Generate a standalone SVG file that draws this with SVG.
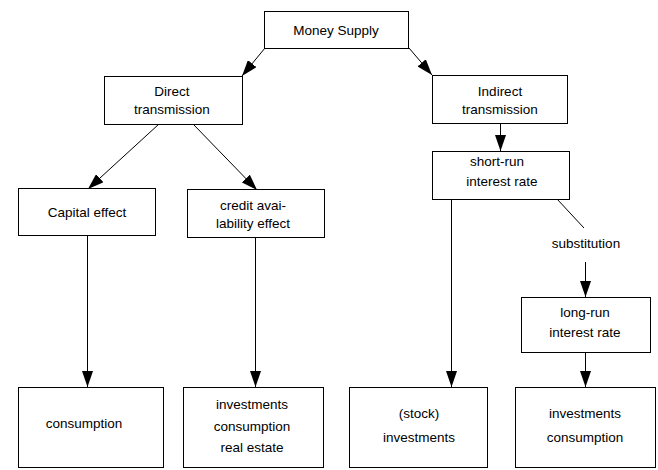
<svg xmlns="http://www.w3.org/2000/svg" width="658" height="470" viewBox="0 0 658 470">
<style>
.box{fill:#fff;stroke:#000;stroke-width:1}
.t{font-family:"Liberation Sans",Arial,sans-serif;font-size:13.5px;fill:#000;text-anchor:middle}
.c{stroke:#000;stroke-width:1;fill:none}
</style>
<defs>
<marker id="ah" viewBox="0 0 16 11" refX="16" refY="5.5" markerWidth="16" markerHeight="11" markerUnits="userSpaceOnUse" orient="auto">
<path d="M0,0 L16,5.5 L0,11 Z" fill="#000"/>
</marker>
</defs>
<rect width="658" height="470" fill="#fff"/>
<g id="connectors">
<line class="c" x1="265" y1="48" x2="242" y2="76" marker-end="url(#ah)"/>
<line class="c" x1="409" y1="48" x2="432" y2="75" marker-end="url(#ah)"/>
<line class="c" x1="159" y1="124" x2="88" y2="189" marker-end="url(#ah)"/>
<line class="c" x1="193" y1="124" x2="257" y2="190" marker-end="url(#ah)"/>
<line class="c" x1="500.5" y1="123" x2="500.5" y2="151" marker-end="url(#ah)"/>
<line class="c" x1="557" y1="199" x2="584" y2="228"/>
<line class="c" x1="585.5" y1="262" x2="585.5" y2="297" marker-end="url(#ah)"/>
<line class="c" x1="87.5" y1="235" x2="87.5" y2="387" marker-end="url(#ah)"/>
<line class="c" x1="255.5" y1="237" x2="255.5" y2="387" marker-end="url(#ah)"/>
<line class="c" x1="451.5" y1="199" x2="451.5" y2="387" marker-end="url(#ah)"/>
<line class="c" x1="585.5" y1="352" x2="585.5" y2="387" marker-end="url(#ah)"/>
</g>
<g id="money-supply">
<rect class="box" x="264.5" y="11.5" width="144" height="37"/>
<text class="t" x="336" y="35">Money Supply</text>
</g>
<g id="direct">
<rect class="box" x="104.5" y="76.5" width="138" height="48"/>
<text class="t" x="172" y="96">Direct</text>
<text class="t" x="172" y="114">transmission</text>
</g>
<g id="indirect">
<rect class="box" x="432.5" y="75.5" width="135" height="48"/>
<text class="t" x="500" y="96">Indirect</text>
<text class="t" x="500" y="114">transmission</text>
</g>
<g id="short-run">
<rect class="box" x="432.5" y="151.5" width="137" height="48"/>
<text class="t" x="497" y="166">short-run</text>
<text class="t" x="502" y="186">interest rate</text>
</g>
<g id="capital">
<rect class="box" x="18.5" y="188.5" width="137" height="47"/>
<text class="t" x="87" y="217">Capital effect</text>
</g>
<g id="credit">
<rect class="box" x="187.5" y="189.5" width="137" height="48"/>
<text class="t" x="253" y="210">credit avai-</text>
<text class="t" x="253" y="228">lability effect</text>
</g>
<g id="substitution">
<text class="t" x="586" y="248">substitution</text>
</g>
<g id="long-run">
<rect class="box" x="521.5" y="297.5" width="129" height="55"/>
<text class="t" x="585" y="317">long-run</text>
<text class="t" x="585" y="337">interest rate</text>
</g>
<g id="consumption">
<rect class="box" x="18.5" y="387.5" width="145" height="80"/>
<text class="t" x="84" y="428">consumption</text>
</g>
<g id="inv-cons-re">
<rect class="box" x="183.5" y="387.5" width="140" height="80"/>
<text class="t" x="252" y="409">investments</text>
<text class="t" x="252" y="431">consumption</text>
<text class="t" x="252" y="452">real estate</text>
</g>
<g id="stock-inv">
<rect class="box" x="349.5" y="387.5" width="138" height="80"/>
<text class="t" x="419" y="418">(stock)</text>
<text class="t" x="419" y="442">investments</text>
</g>
<g id="inv-cons">
<rect class="box" x="515.5" y="387.5" width="140" height="80"/>
<text class="t" x="585" y="418">investments</text>
<text class="t" x="585" y="442">consumption</text>
</g>
</svg>
